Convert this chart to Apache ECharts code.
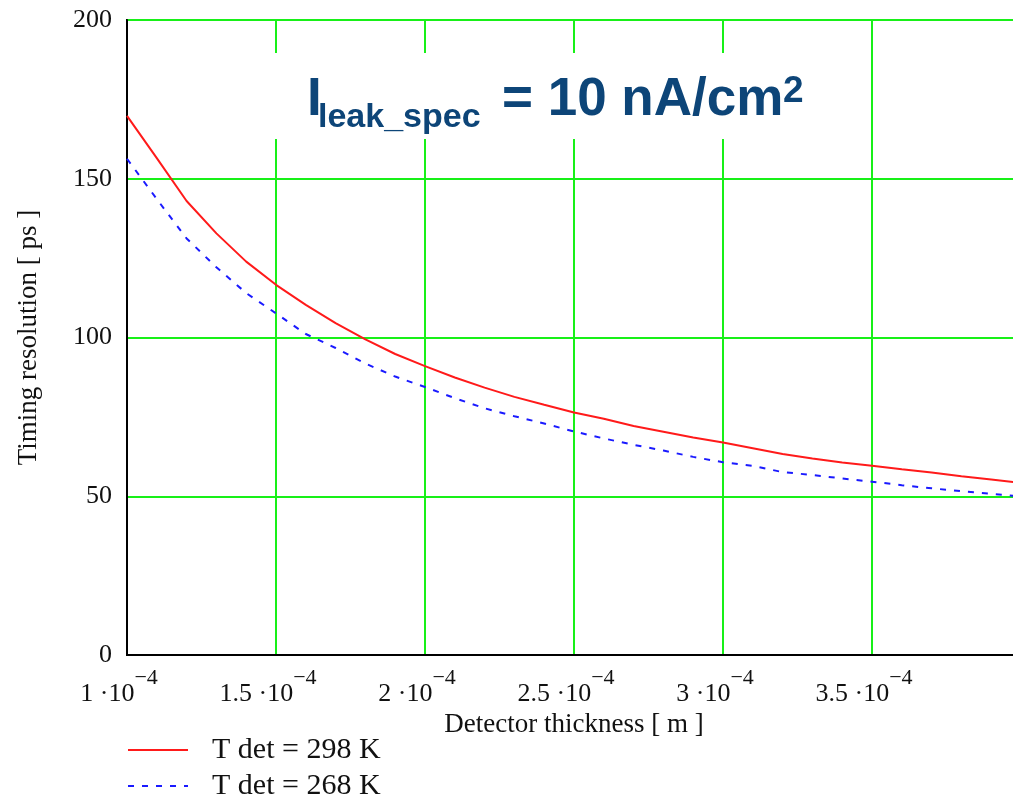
<!DOCTYPE html>
<html>
<head>
<meta charset="utf-8">
<title>Timing resolution vs detector thickness</title>
<script src="https://cdn.jsdelivr.net/npm/echarts@6/dist/echarts.min.js"></script>
<style>
  html, body { margin: 0; padding: 0; background: #fff; }
  #chart { width: 1013px; height: 801px; }
</style>
</head>
<body>
<div id="chart"></div>
<script>
// Detector thickness [m]
const thickness = [
  1.0e-4, 1.1e-4, 1.2e-4, 1.3e-4, 1.4e-4, 1.5e-4, 1.6e-4, 1.7e-4, 1.8e-4, 1.9e-4,
  2.0e-4, 2.1e-4, 2.2e-4, 2.3e-4, 2.4e-4, 2.5e-4, 2.6e-4, 2.7e-4, 2.8e-4, 2.9e-4,
  3.0e-4, 3.1e-4, 3.2e-4, 3.3e-4, 3.4e-4, 3.5e-4, 3.6e-4, 3.7e-4, 3.8e-4, 3.9e-4, 4.0e-4
];

// Timing resolution [ps] at T det = 298 K
const res298 = [
  169.8, 156.5, 143.0, 132.8, 123.9, 116.6, 110.3, 104.5, 99.4, 94.8,
  91.0, 87.4, 84.2, 81.3, 78.8, 76.4, 74.4, 72.1, 70.3, 68.5,
  66.9, 65.1, 63.3, 61.9, 60.6, 59.6, 58.5, 57.5, 56.3, 55.3, 54.2
];

// Timing resolution [ps] at T det = 268 K
const res268 = [
  156.3, 143.6, 131.2, 122.1, 114.0, 107.6, 101.1, 96.7, 91.8, 87.7,
  84.4, 80.9, 77.7, 75.2, 72.9, 70.4, 68.2, 66.2, 64.4, 62.4,
  60.7, 59.6, 57.6, 56.7, 55.6, 54.6, 53.5, 52.5, 51.6, 50.8, 49.9
];

const seriesNames = ['T det = 298 K', 'T det = 268 K'];
const yTicks = [0, 50, 100, 150, 200];
const xTickMantissas = ['1', '1.5', '2', '2.5', '3', '3.5'];

const serif = '"Liberation Serif", "Times New Roman", serif';
const sans = '"Liberation Sans", Arial, sans-serif';
const gridGreen = '#18f018';
const titleBlue = '#0d4578';

const chart = echarts.init(document.getElementById('chart'), null, { renderer: 'canvas' });

function pairs(xs, ys) {
  return xs.map((x, i) => [x, ys[i]]);
}

chart.setOption({
  backgroundColor: '#ffffff',
  animation: false,
  grid: {
    left: 127, right: -8, top: 20, bottom: 146,
    containLabel: false,
    outerBoundsMode: 'none',
    show: true, borderColor: '#000', borderWidth: 2,
    backgroundColor: 'transparent'
  },
  xAxis: {
    type: 'value',
    min: 1e-4, max: 4e-4, interval: 0.5e-4,
    name: 'Detector thickness [ m ]',
    nameLocation: 'middle',
    nameGap: 46,
    nameTextStyle: { fontFamily: serif, fontSize: 27, color: '#111' },
    axisLine: { show: true, lineStyle: { color: '#000', width: 2 } },
    axisTick: { show: false },
    splitLine: { show: true, lineStyle: { color: gridGreen, width: 2 } },
    axisLabel: {
      margin: 12,
      formatter: function (v) {
        const k = Math.round((v - 1e-4) / 0.5e-4);
        const m = xTickMantissas[k];
        if (m === undefined) return '';
        return '{m|' + m + ' \u00b710}{e|\u22124}';
      },
      rich: {
        m: { fontFamily: serif, fontSize: 26, color: '#111', verticalAlign: 'bottom', lineHeight: 40 },
        e: { fontFamily: serif, fontSize: 22, color: '#111', verticalAlign: 'top', lineHeight: 24, padding: [0, 16, 0, 0] }
      }
    }
  },
  yAxis: {
    type: 'value',
    min: 0, max: 200, interval: 50,
    name: 'Timing resolution [ ps ]',
    nameLocation: 'middle',
    nameGap: 85,
    nameRotate: 90,
    nameTextStyle: { fontFamily: serif, fontSize: 27, color: '#111' },
    axisLine: { show: true, lineStyle: { color: '#000', width: 2 } },
    axisTick: { show: false },
    splitLine: { show: true, lineStyle: { color: gridGreen, width: 2 } },
    axisLabel: {
      margin: 15,
      fontFamily: serif, fontSize: 26, color: '#111',
      formatter: function (v) { return yTicks.indexOf(v) >= 0 ? String(v) : ''; }
    }
  },
  legend: {
    orient: 'vertical',
    left: 127, top: 735, height: 80,
    padding: 0,
    itemWidth: 60, itemHeight: 14, itemGap: 6,
    data: seriesNames,
    itemStyle: { opacity: 0 },
    textStyle: { fontFamily: serif, fontSize: 30, color: '#111', padding: [0, 0, 0, 19], lineHeight: 30 }
  },
  graphic: [
    {
      type: 'rect', z: 20,
      shape: { x: 242, y: 53, width: 623, height: 86 },
      style: { fill: '#ffffff' }
    },
    {
      type: 'text', z: 21, x: 307, y: 100,
      style: { text: 'I', font: 'bold 53px ' + sans, fill: titleBlue, verticalAlign: 'middle', align: 'left' }
    },
    {
      type: 'text', z: 21, x: 318, y: 118,
      style: { text: 'leak_spec', font: 'bold 34px ' + sans, fill: titleBlue, verticalAlign: 'middle', align: 'left' }
    },
    {
      type: 'text', z: 21, x: 502, y: 100,
      style: { text: '= 10 nA/cm', font: 'bold 53px ' + sans, fill: titleBlue, verticalAlign: 'middle', align: 'left' }
    },
    {
      type: 'text', z: 21, x: 783, y: 92,
      style: { text: '2', font: 'bold 37px ' + sans, fill: titleBlue, verticalAlign: 'middle', align: 'left' }
    }
  ],
  series: [
    {
      name: seriesNames[0],
      type: 'line',
      data: pairs(thickness, res298),
      symbol: 'none',
      smooth: false,
      lineStyle: { color: '#ff1a1a', width: 2 },
      itemStyle: { color: '#ff1a1a' },
      z: 3
    },
    {
      name: seriesNames[1],
      type: 'line',
      data: pairs(thickness, res268),
      symbol: 'none',
      smooth: false,
      lineStyle: { color: '#1a1aff', width: 2, type: [6, 8] },
      itemStyle: { color: '#1a1aff' },
      z: 3
    }
  ]
});
</script>
</body>
</html>
